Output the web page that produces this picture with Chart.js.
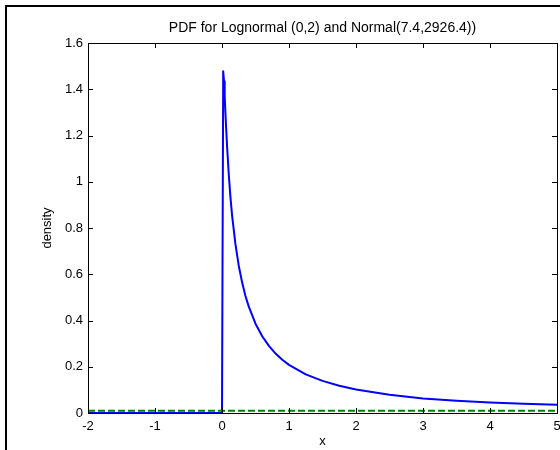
<!DOCTYPE html>
<html>
<head>
<meta charset="utf-8">
<script src="https://cdn.jsdelivr.net/npm/chart.js@4/dist/chart.umd.min.js"></script>
<style>
  body { margin: 0; background: #fff; }
  #c { display: block; }
</style>
</head>
<body>
<canvas id="c" width="560" height="450"></canvas>
<script>
// values
const lognX = [-2, 0, 0.018, 0.03, 0.04, 0.05, 0.06, 0.075, 0.1, 0.125, 0.15, 0.2, 0.25, 0.3, 0.35, 0.4, 0.5, 0.6, 0.7, 0.8, 0.9, 1, 1.25, 1.5, 1.75, 2, 2.5, 3, 3.5, 4, 4.5, 5];
const lognY = [0, 0, 1.478, 1.435, 1.372, 1.305, 1.242, 1.157, 1.036, 0.937, 0.856, 0.731, 0.637, 0.565, 0.506, 0.46, 0.386, 0.332, 0.29, 0.257, 0.23, 0.208, 0.167, 0.139, 0.118, 0.102, 0.079, 0.063, 0.053, 0.045, 0.040, 0.036];
const normX = [-2, -1, 0, 1, 2, 3, 4, 5];
const normY = [0.01, 0.01, 0.01, 0.01, 0.01, 0.01, 0.01, 0.01];

const titleText = 'PDF for Lognormal (0,2) and Normal(7.4,2926.4))';
const font = { family: '"Liberation Sans", Arial, Helvetica, sans-serif', size: 13 };

function toPoints(xs, ys) {
  return xs.map((x, i) => ({ x: x, y: ys[i] }));
}

// figure frame, axes box and inward tick marks like matlab
const matlabAxes = {
  id: 'matlabAxes',
  beforeDraw(chart) {
    const ctx = chart.ctx;
    ctx.save();
    ctx.fillStyle = '#000';
    ctx.fillRect(5, 5, 2, 445);
    ctx.fillRect(5, 5, 555, 2);
    ctx.restore();
  },
  afterDraw(chart) {
    const ctx = chart.ctx;
    const a = chart.chartArea;
    const xs = chart.scales.x, ys = chart.scales.y;
    const len = 5;
    ctx.save();
    ctx.strokeStyle = '#000';
    ctx.lineWidth = 1;
    ctx.strokeRect(Math.round(a.left) + 0.5, Math.round(a.top) + 0.5,
      Math.round(a.right - a.left), Math.round(a.bottom - a.top));
    ctx.beginPath();
    xs.ticks.forEach(t => {
      const px = Math.round(xs.getPixelForValue(t.value)) + 0.5;
      ctx.moveTo(px, a.bottom); ctx.lineTo(px, a.bottom - len);
      ctx.moveTo(px, a.top); ctx.lineTo(px, a.top + len);
    });
    ys.ticks.forEach(t => {
      const py = Math.round(ys.getPixelForValue(t.value)) + 0.5;
      ctx.moveTo(a.left, py); ctx.lineTo(a.left + len, py);
      ctx.moveTo(a.right, py); ctx.lineTo(a.right - len, py);
    });
    ctx.stroke();
    ctx.restore();
  }
};

new Chart(document.getElementById('c'), {
  type: 'line',
  data: {
    datasets: [
      {
        label: 'Normal',
        data: toPoints(normX, normY),
        borderColor: '#008000',
        borderWidth: 2,
        borderDash: [7, 3],
        pointRadius: 0,
        tension: 0,
        order: 0
      },
      {
        label: 'Lognormal',
        data: toPoints(lognX, lognY),
        borderColor: '#0000ff',
        borderWidth: 2,
        borderJoinStyle: 'round',
        pointRadius: 0,
        tension: 0,
        order: 1
      }
    ]
  },
  options: {
    responsive: false,
    animation: false,
    layout: { padding: { top: 0, right: 3, bottom: 0, left: 0 } },
    plugins: {
      legend: { display: false },
      tooltip: { enabled: false },
      title: {
        display: true,
        fullSize: false,
        text: titleText,
        color: '#000',
        font: { family: font.family, size: 14, weight: 'normal' },
        padding: { top: 20, bottom: 6.2 }
      }
    },
    scales: {
      x: {
        type: 'linear',
        min: -2,
        max: 5,
        ticks: { stepSize: 1, color: '#000', font: font, padding: 6 },
        grid: { drawOnChartArea: false, drawTicks: false },
        border: { display: true, color: '#000' },
        title: { display: true, text: 'x', color: '#000', font: font, padding: { top: 0, bottom: 1 } },
        afterFit(scale) { scale.height = 37; scale.paddingRight = 0; }
      },
      y: {
        min: 0,
        max: 1.6,
        ticks: {
          stepSize: 0.2, color: '#000', font: font, padding: 5,
          callback: v => String(Math.round(v * 10) / 10)
        },
        grid: { drawOnChartArea: false, drawTicks: false },
        border: { display: true, color: '#000' },
        title: { display: true, text: 'density', color: '#000', font: font, padding: { top: 40, bottom: 0 } },
        afterFit(scale) { scale.width = 88; }
      }
    }
  },
  plugins: [matlabAxes]
});
</script>
</body>
</html>
